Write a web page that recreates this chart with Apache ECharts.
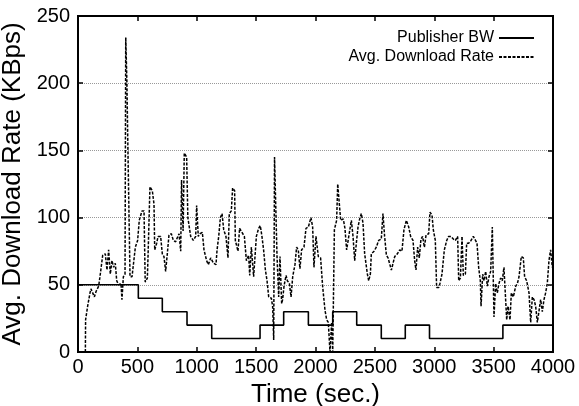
<!DOCTYPE html>
<html>
<head>
<meta charset="utf-8">
<script src="https://cdn.jsdelivr.net/npm/echarts@6/dist/echarts.min.js"></script>
<style>
  html, body { margin: 0; padding: 0; background: #fff; }
  #main { width: 579px; height: 406px; }
</style>
</head>
<body>
<div id="main"></div>
<script>
// publisher bandwidth, step function (value holds until next time)
var bwTime = [0, 508, 710, 918, 1126, 1533, 1732, 1940, 2145, 2347, 2554, 2756, 2960, 3578, 4000]
var bwRate = [50, 40, 30, 20, 10, 20, 30, 20, 30, 20, 10, 20, 10, 20, 20]

// average download rate
var dlTime = [
  62, 64, 81, 101, 109, 138, 152, 174, 185, 208, 230, 244, 258, 272, 286, 300, 314, 326, 342, 362,
  370, 382, 396, 402, 412, 418, 425, 438, 455, 483, 502, 516, 539, 556, 566, 584, 590, 606, 626, 640,
  646, 663, 674, 696, 710, 724, 738, 752, 766, 786, 803, 822, 836, 851, 865, 872, 885, 895, 915, 925,
  949, 971, 991, 999, 1013, 1027, 1047, 1061, 1083, 1098, 1117, 1128, 1142, 1162, 1171, 1185, 1199, 1213, 1227, 1246,
  1263, 1274, 1291, 1302, 1319, 1325, 1347, 1361, 1381, 1401, 1418, 1437, 1446, 1460, 1479, 1493, 1502, 1521, 1535, 1549,
  1563, 1578, 1592, 1606, 1628, 1639, 1648, 1655, 1668, 1676, 1690, 1701, 1715, 1723, 1735, 1752, 1763, 1780, 1794, 1808,
  1827, 1841, 1855, 1869, 1883, 1903, 1920, 1940, 1962, 1976, 1987, 2004, 2024, 2043, 2060, 2080, 2094, 2108, 2122, 2136,
  2145, 2159, 2178, 2187, 2201, 2212, 2234, 2248, 2262, 2274, 2302, 2316, 2330, 2344, 2358, 2372, 2386, 2400, 2414, 2437,
  2448, 2462, 2470, 2493, 2512, 2532, 2554, 2568, 2582, 2597, 2611, 2625, 2639, 2653, 2667, 2689, 2709, 2728, 2745, 2765,
  2785, 2801, 2821, 2835, 2846, 2860, 2874, 2888, 2902, 2917, 2931, 2953, 2964, 2981, 2992, 3009, 3020, 3038, 3048, 3065,
  3085, 3105, 3121, 3141, 3161, 3178, 3197, 3206, 3220, 3234, 3245, 3262, 3273, 3290, 3310, 3329, 3345, 3360, 3374, 3388,
  3394, 3408, 3419, 3433, 3447, 3461, 3475, 3489, 3503, 3517, 3531, 3545, 3559, 3573, 3587, 3601, 3610, 3621, 3638, 3649,
  3666, 3686, 3700, 3714, 3733, 3750, 3761, 3778, 3798, 3812, 3826, 3840, 3854, 3868, 3882, 3896, 3910, 3924, 3938, 3952,
  3966, 3980, 3994
]
var dlRate = [
  0, 24, 34, 44, 47, 41, 45, 49, 56, 72, 73, 61, 76, 58, 68, 63, 66, 53, 50, 51,
  39, 56, 58, 234, 200, 164, 164, 56, 56, 78, 83, 98, 105, 105, 52, 55, 72, 123, 120, 110,
  76, 81, 86, 86, 73, 71, 60, 73, 87, 88, 83, 82, 81, 88, 75, 128, 90, 148, 145, 100,
  86, 83, 86, 109, 86, 88, 89, 76, 68, 65, 70, 70, 66, 65, 76, 86, 100, 103, 91, 86,
  70, 103, 105, 122, 120, 83, 75, 92, 89, 86, 68, 72, 57, 78, 56, 56, 86, 92, 94, 86,
  76, 61, 53, 41, 40, 34, 9, 145, 145, 71, 41, 71, 36, 39, 49, 57, 53, 51, 41, 56,
  65, 78, 76, 62, 76, 78, 92, 93, 100, 93, 63, 86, 71, 70, 49, 31, 24, 22, 0, 22,
  0, 91, 98, 125, 124, 98, 99, 92, 76, 76, 98, 86, 68, 81, 93, 99, 103, 96, 73, 58,
  53, 58, 73, 75, 78, 83, 84, 103, 86, 72, 70, 71, 61, 66, 71, 73, 76, 75, 91, 98,
  93, 86, 83, 68, 61, 78, 70, 84, 86, 78, 87, 88, 104, 102, 91, 83, 48, 48, 51, 58,
  76, 83, 86, 86, 84, 83, 86, 53, 55, 86, 57, 58, 81, 81, 83, 86, 86, 81, 63, 53,
  34, 58, 53, 60, 49, 56, 60, 93, 26, 51, 44, 51, 55, 53, 63, 63, 24, 34, 24, 44,
  41, 49, 51, 56, 71, 70, 56, 53, 44, 22, 41, 39, 34, 22, 21, 39, 30, 39, 44, 51,
  68, 76, 63
]

var xTicks = { min: 0, max: 4000, interval: 500 }
var yTicks = { min: 0, max: 250, interval: 50 }

var font = 'Liberation Sans, Arial, Helvetica, sans-serif'

function pairs (xs, ys) {
  return xs.map(function (x, i) { return [x, ys[i]] })
}

// plain numbers, no thousands separator
function plain (v) {
  return String(v)
}

var chart = echarts.init(document.getElementById('main'), null, { renderer: 'canvas' })
chart.setOption({
  animation: false,
  backgroundColor: '#fff',
  grid: {
    left: 78,
    right: 26,
    top: 16,
    bottom: 54,
    outerBoundsMode: 'none',
    show: true,
    borderColor: '#000',
    borderWidth: 2
  },
  legend: {
    orient: 'vertical',
    right: 39,
    top: 25,
    align: 'right',
    itemWidth: 35,
    itemHeight: 14,
    itemGap: 3,
    itemStyle: { opacity: 0 },
    textStyle: { fontFamily: font, fontSize: 16, color: '#000' },
    data: ['Publisher BW', 'Avg. Download Rate']
  },
  xAxis: [
    {
      type: 'value',
      min: xTicks.min,
      max: xTicks.max,
      interval: xTicks.interval,
      name: 'Time (sec.)',
      nameLocation: 'middle',
      nameGap: 27,
      nameTextStyle: { fontFamily: font, fontSize: 26, color: '#000' },
      axisLine: { show: true, onZero: false, lineStyle: { color: '#000', width: 2 } },
      axisTick: { show: true, inside: true, length: 5, lineStyle: { color: '#000', width: 1.5 } },
      axisLabel: { fontFamily: font, fontSize: 20, color: '#000', margin: 5, formatter: plain },
      splitLine: { show: false }
    },
    {
      type: 'value',
      position: 'top',
      min: xTicks.min,
      max: xTicks.max,
      interval: xTicks.interval,
      axisLine: { show: true, onZero: false, lineStyle: { color: '#000', width: 2 } },
      axisTick: { show: true, inside: true, length: 5, lineStyle: { color: '#000', width: 1.5 } },
      axisLabel: { show: false },
      splitLine: { show: false }
    }
  ],
  yAxis: [
    {
      type: 'value',
      min: yTicks.min,
      max: yTicks.max,
      interval: yTicks.interval,
      name: 'Avg. Download Rate (KBps)',
      nameLocation: 'middle',
      nameGap: 44,
      nameTextStyle: { fontFamily: font, fontSize: 26, color: '#000' },
      axisLine: { show: true, onZero: false, lineStyle: { color: '#000', width: 2 } },
      axisTick: { show: true, inside: true, length: 5, lineStyle: { color: '#000', width: 1.5 } },
      axisLabel: { fontFamily: font, fontSize: 20, color: '#000', margin: 8, formatter: plain },
      splitLine: { show: true, lineStyle: { color: '#999', width: 1, type: [1, 1] } }
    },
    {
      type: 'value',
      position: 'right',
      min: yTicks.min,
      max: yTicks.max,
      interval: yTicks.interval,
      axisLine: { show: true, onZero: false, lineStyle: { color: '#000', width: 2 } },
      axisTick: { show: true, inside: true, length: 5, lineStyle: { color: '#000', width: 1.5 } },
      axisLabel: { show: false },
      splitLine: { show: false }
    }
  ],
  series: [
    {
      name: 'Publisher BW',
      type: 'line',
      step: 'end',
      symbol: 'none',
      data: pairs(bwTime, bwRate),
      lineStyle: { color: '#000', width: 1.6 },
      itemStyle: { color: '#000' }
    },
    {
      name: 'Avg. Download Rate',
      type: 'line',
      symbol: 'none',
      data: pairs(dlTime, dlRate),
      lineStyle: { color: '#000', width: 1.5, type: [3, 1.5] },
      itemStyle: { color: '#000' }
    }
  ]
})
</script>
</body>
</html>
